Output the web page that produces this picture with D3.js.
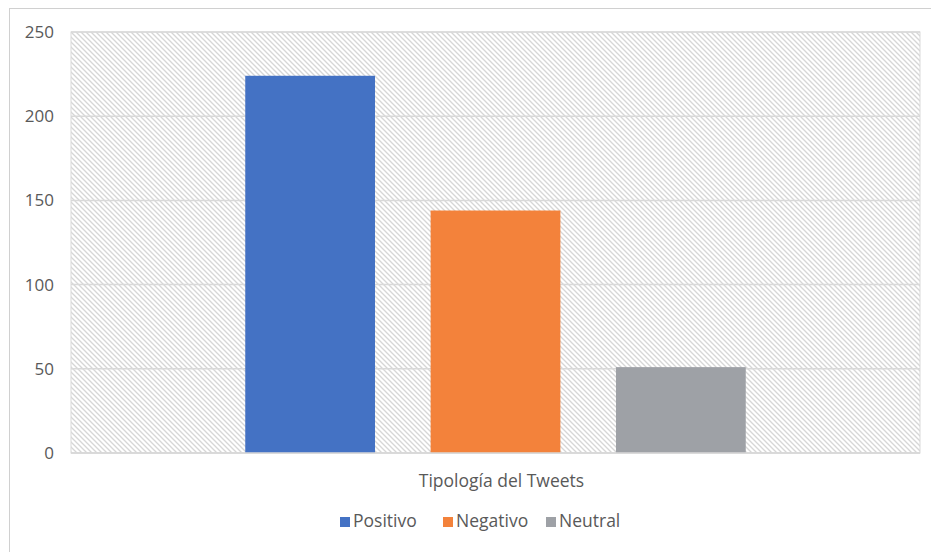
<!DOCTYPE html>
<html>
<head>
<meta charset="utf-8">
<script src="https://cdn.jsdelivr.net/npm/d3@7/dist/d3.min.js"></script>
<style>
  body { margin: 0; background: #fff; }
  text { font-family: "Open Sans", Lato, sans-serif; fill: #595959; }
</style>
</head>
<body>
<div id="chart"></div>
<script>
// data
var categories = ["Tipología del Tweets"];
var seriesNames = ["Positivo", "Negativo", "Neutral"];
var seriesValues = [224, 144, 51];
var seriesColors = ["#4472c4", "#f3823b", "#9ea1a6"];
var yTicks = [0, 50, 100, 150, 200, 250];

var width = 931, height = 552,
    margin = {top: 32, right: 11, bottom: 99, left: 71};

var svg = d3.select("#chart").append("svg")
    .attr("width", width)
    .attr("height", height);

// outer chart border
svg.append("rect")
    .attr("x", 9.5).attr("y", 8.5)
    .attr("width", 940).attr("height", 560)
    .attr("fill", "#fff")
    .attr("stroke", "#d0d0d0");

// hatch pattern for plot background
var defs = svg.append("defs");
var pat = defs.append("pattern")
    .attr("id", "hatch")
    .attr("patternUnits", "userSpaceOnUse")
    .attr("width", 5).attr("height", 5);
pat.append("rect").attr("width", 5).attr("height", 5).attr("fill", "#fff");
pat.append("path")
    .attr("d", "M-1,-1 L6,6 M-1,4 L1,6 M4,-1 L6,1")
    .attr("stroke", "#d6d6d6")
    .attr("stroke-width", 1.3);

var innerW = width - margin.left - margin.right,
    innerH = height - margin.top - margin.bottom;

var g = svg.append("g")
    .attr("transform", "translate(" + margin.left + "," + margin.top + ")");

var x0 = d3.scaleBand().domain(categories).range([0, innerW]);
var x1 = d3.scaleBand().domain(seriesNames)
    .range([0, x0.bandwidth()])
    .paddingInner(0.3).paddingOuter(0.94);
var y = d3.scaleLinear().domain([0, 250]).range([innerH, 0]);

g.append("rect")
    .attr("width", innerW).attr("height", innerH)
    .attr("fill", "url(#hatch)")
    .attr("stroke", "#d9d9d9");

// gridlines
g.selectAll(".grid").data(yTicks).enter().append("line")
    .attr("x1", 0).attr("x2", innerW)
    .attr("y1", function(d) { return y(d); })
    .attr("y2", function(d) { return y(d); })
    .attr("stroke", "#d9d9d9").attr("stroke-width", 1.5);

// y axis labels
var yAxis = d3.axisLeft(y).tickValues(yTicks).tickSize(0).tickPadding(17);
var ya = g.append("g").call(yAxis);
ya.select(".domain").remove();
ya.selectAll("text")
    .attr("font-size", null).attr("font-family", null)
    .style("font-size", "17px")
    .style("font-family", "'Open Sans', sans-serif")
    .attr("fill", "#595959");

// bars
categories.forEach(function(cat) {
    g.selectAll(".bar").data(seriesNames).enter().append("rect")
        .attr("x", function(d) { return x0(cat) + x1(d); })
        .attr("y", function(d, i) { return y(seriesValues[i]); })
        .attr("width", x1.bandwidth())
        .attr("height", function(d, i) { return innerH - y(seriesValues[i]); })
        .attr("fill", function(d, i) { return seriesColors[i]; });
});

// x axis line & category label
g.append("line")
    .attr("x1", 0).attr("x2", innerW)
    .attr("y1", innerH).attr("y2", innerH)
    .attr("stroke", "#d9d9d9").attr("stroke-width", 1.5);

g.selectAll(".cat").data(categories).enter().append("text")
    .attr("x", function(d) { return x0(d) + x0.bandwidth() / 2 + 6; })
    .attr("y", innerH + 34)
    .attr("text-anchor", "middle")
    .style("font-size", "17.5px")
    .text(function(d) { return d; });

// legend
var legend = svg.append("g").attr("transform", "translate(0,527)");
var legendX = [340, 443, 546];
var items = legend.selectAll(".item").data(seriesNames).enter().append("g")
    .attr("transform", function(d, i) { return "translate(" + legendX[i] + ",0)"; });
items.append("rect")
    .attr("x", 0).attr("y", -10)
    .attr("width", 10).attr("height", 10)
    .attr("fill", function(d, i) { return seriesColors[i]; });
items.append("text")
    .attr("x", 13).attr("y", 0)
    .style("font-size", "17.5px")
    .text(function(d) { return d; });
</script>
</body>
</html>
